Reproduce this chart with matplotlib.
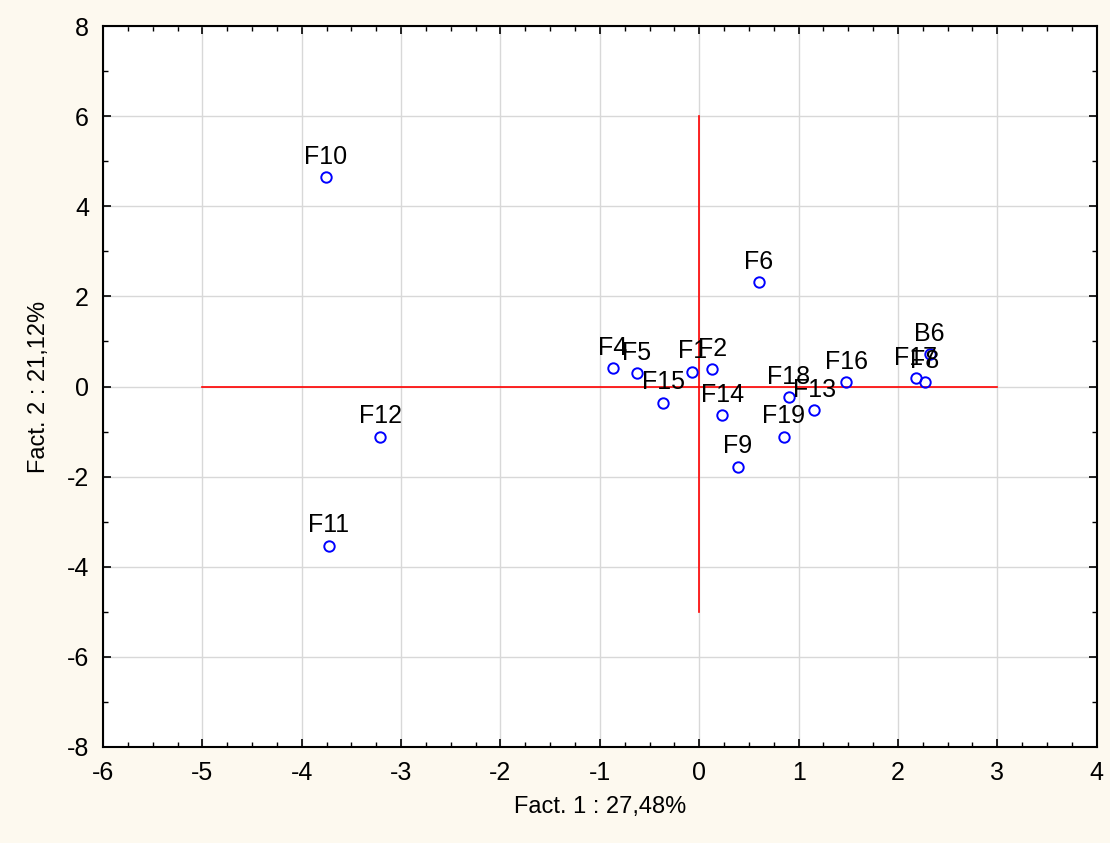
import numpy as np
import matplotlib.pyplot as plt
from matplotlib.ticker import MultipleLocator

# Factor coordinates
labels = ["F1", "F2", "F4", "F5", "F6", "F9", "F10", "F11", "F12", "F13",
          "F14", "F15", "F16", "F17", "F8", "B6", "F18", "F19"]
fact1 = [-0.07, 0.13, -0.87, -0.63, 0.60, 0.39, -3.76, -3.73, -3.21, 1.16,
         0.23, -0.36, 1.48, 2.18, 2.27, 2.32, 0.90, 0.85]
fact2 = [0.33, 0.38, 0.40, 0.29, 2.31, -1.78, 4.64, -3.53, -1.11, -0.53,
         -0.64, -0.36, 0.09, 0.18, 0.11, 0.72, -0.24, -1.11]

# red reference lines
hline_x = [-5, 3]
vline_y = [-5, 6]

plt.rcParams['font.family'] = ['Liberation Sans', 'DejaVu Sans']
plt.rcParams['axes.unicode_minus'] = False

fig = plt.figure(figsize=(11.1, 8.43), dpi=100, facecolor='#fdf9ef')
ax = fig.add_axes([0.0928, 0.1139, 0.8952, 0.8552])
ax.set_facecolor('white')

ax.plot(hline_x, [0, 0], color='red', lw=1.2, zorder=2)
ax.plot([0, 0], vline_y, color='red', lw=1.2, zorder=2)

ax.plot(fact1, fact2, 'o', mfc='none', mec='blue', ms=7.5, mew=1.4, zorder=3)
for lab, x, y in zip(labels, fact1, fact2):
    ax.annotate(lab, (x, y), xytext=(0, 6), textcoords='offset points',
                ha='center', va='bottom', fontsize=18, color='black', zorder=4)

ax.set_xlim(-6, 4)
ax.set_ylim(-8, 8)
ax.xaxis.set_major_locator(MultipleLocator(1))
ax.xaxis.set_minor_locator(MultipleLocator(0.25))
ax.yaxis.set_major_locator(MultipleLocator(2))
ax.yaxis.set_minor_locator(MultipleLocator(1))
ax.grid(True, which='major', color='#d8d8d8', lw=1)
ax.set_axisbelow(True)
ax.tick_params(which='both', direction='in', top=True, right=True,
               labelsize=18, color='black')
ax.tick_params(which='major', length=6, width=1.2, pad=10)
ax.tick_params(which='minor', length=3.5, width=1)
for s in ax.spines.values():
    s.set_linewidth(1.5)

ax.set_xlabel('Fact. 1 : 27,48%', fontsize=17, labelpad=8)
ax.set_ylabel('Fact. 2 : 21,12%', fontsize=17, labelpad=12)

fig.savefig('out.png', dpi=100, facecolor=fig.get_facecolor())
